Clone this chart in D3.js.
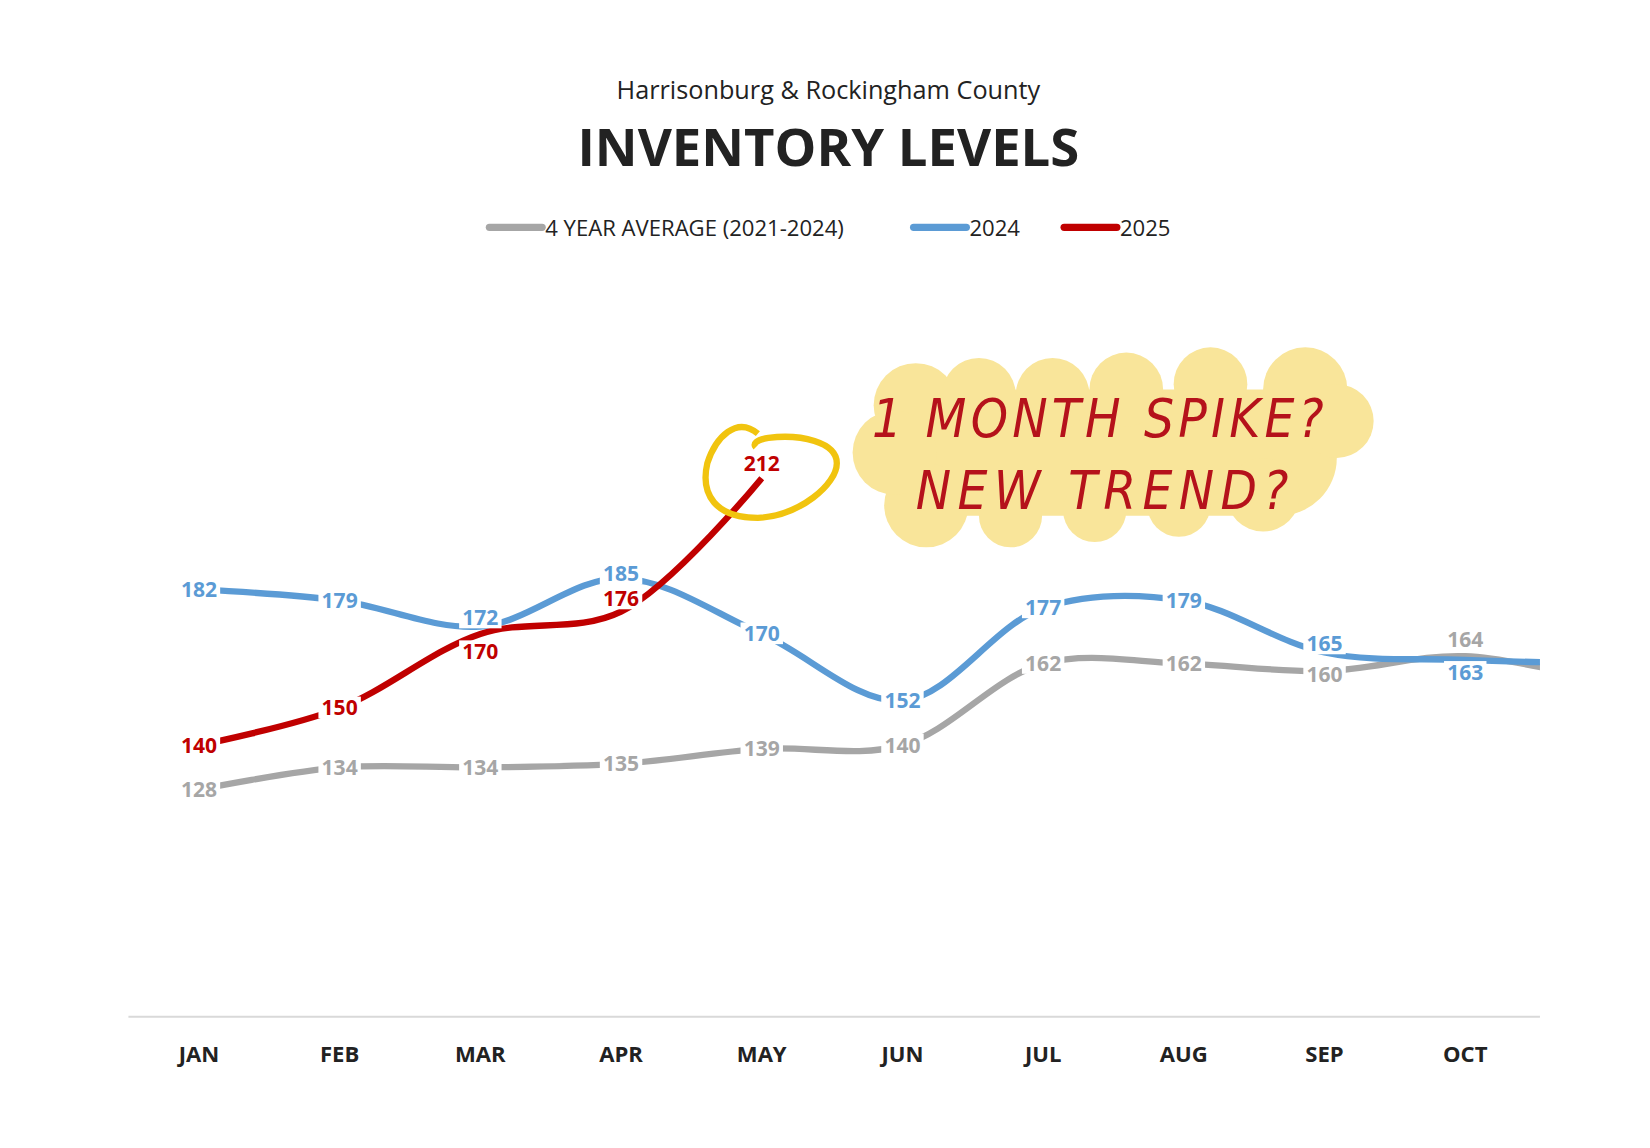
<!DOCTYPE html><html><head><meta charset="utf-8">
<script src="https://d3js.org/d3.v7.min.js"></script>
<style>body{margin:0;background:#fff}</style></head><body>
<svg id="c" width="1650" height="1148"></svg>
<script>
const months=["JAN","FEB","MAR","APR","MAY","JUN","JUL","AUG","SEP","OCT","NOV"];
const avg=[128,134,134,135,139,140,162,162,160,164,157];
const y2024=[182,179,172,185,170,152,177,179,165,163,162];
const y2025=[140,150,170,176,212];
const svg=d3.select("#c").append("g").attr("transform","scale(1.0526)");
const F="'Open Sans','Noto Sans',sans-serif";
const x=d3.scalePoint().domain(months).range([189,1392+133.7]);
const y=d3.scaleLinear().domain([0,182]).range([1201,560]);
svg.append("text").attr("x",787).attr("y",94).attr("text-anchor","middle").attr("font-family",F).attr("font-size",24).attr("fill","#222").text("Harrisonburg & Rockingham County");
svg.append("text").attr("x",787).attr("y",158).attr("text-anchor","middle").attr("font-family",F).attr("font-weight",700).attr("font-size",50).attr("fill","#222").text("INVENTORY LEVELS");
const leg=[["4 YEAR AVERAGE (2021-2024)","#a6a6a6",465],["2024","#5b9bd5",868],["2025","#c00000",1011]];
leg.forEach(([t,c,lx])=>{svg.append("line").attr("x1",lx).attr("x2",lx+50).attr("y1",216).attr("y2",216).attr("stroke",c).attr("stroke-width",7).attr("stroke-linecap","round");
svg.append("text").attr("x",lx+53).attr("y",224).attr("font-family",F).attr("font-size",21).attr("fill","#222").text(t);});
svg.append("line").attr("x1",122).attr("x2",1463).attr("y1",966).attr("y2",966).attr("stroke","#d9d9d9").attr("stroke-width",2);
months.slice(0,10).forEach(m=>svg.append("text").attr("x",x(m)).attr("y",1009).attr("text-anchor","middle").attr("font-family",F).attr("font-weight",700).attr("font-size",21).attr("fill","#222").text(m));
svg.append("clipPath").attr("id","cl").append("rect").attr("x",0).attr("y",0).attr("width",1463).attr("height",1148);
const line=d3.line().x((d,i)=>x(months[i])).y(d=>y(d)).curve(d3.curveCatmullRom.alpha(0.5));
const g=svg.append("g").attr("clip-path","url(#cl)");
[[avg,"#a6a6a6"],[y2024,"#5b9bd5"],[y2025,"#c00000"]].forEach(([d,c])=>g.append("path").attr("d",line(d)).attr("fill","none").attr("stroke",c).attr("stroke-width",6));
const labs=svg.append("g");
function lab(v,i,c,dy){const gg=labs.append("g");const t=gg.append("text").attr("x",x(months[i])).attr("y",y(v)+dy+7).attr("text-anchor","middle").attr("font-family",F).attr("font-weight",700).attr("font-size",20).attr("fill",c).text(v);
const b=t.node().getBBox();gg.insert("rect","text").attr("x",b.x-3).attr("y",b.y+3).attr("width",b.width+6).attr("height",b.height-6).attr("fill","#fff");}
avg.slice(0,10).forEach((v,i)=>lab(v,i,"#a6a6a6",i==9?-16:(i==8?3:0)));
y2024.slice(0,10).forEach((v,i)=>lab(v,i,"#5b9bd5",i==9?12:(i==8?-8:(i==2?-8:(i==3?-4:0)))));
y2025.forEach((v,i)=>lab(v,i,"#c00000",i==4?-14:(i==3?-12:(i==2?17:0))));
// annotation
const blob=svg.append("g").attr("fill","#f9e59a");
blob.append("rect").attr("x",830).attr("y",370).attr("width",440).attr("height",120).attr("rx",55);
[[870,385,40],[930,375,35],[1000,375,35],[1070,370,35],[1150,365,35],[1240,370,40],[1270,400,35],[880,480,40],[960,490,30],[1040,485,30],[1120,480,30],[1200,470,35],[850,430,40]].forEach(([cx,cy,r])=>blob.append("circle").attr("cx",cx).attr("cy",cy).attr("r",r));
const HF="'DejaVu Sans Condensed',sans-serif";
svg.append("text").attr("x",1045).attr("y",415).attr("text-anchor","middle").attr("font-family",HF).attr("font-style","italic").attr("font-size",50).attr("fill","#b5121b").attr("letter-spacing",4).text("1 MONTH SPIKE?");
svg.append("text").attr("x",1050).attr("y",484).attr("text-anchor","middle").attr("font-family",HF).attr("font-style","italic").attr("font-size",50).attr("fill","#b5121b").attr("letter-spacing",6).text("NEW TREND?");
svg.append("path").attr("d","M720,412 C700,395 680,415 672,440 C665,470 680,492 720,492 C760,490 795,460 795,440 C795,420 760,412 730,416 C718,418 715,422 718,425").attr("fill","none").attr("stroke","#f1c40f").attr("stroke-width",6);
</script></body></html>
